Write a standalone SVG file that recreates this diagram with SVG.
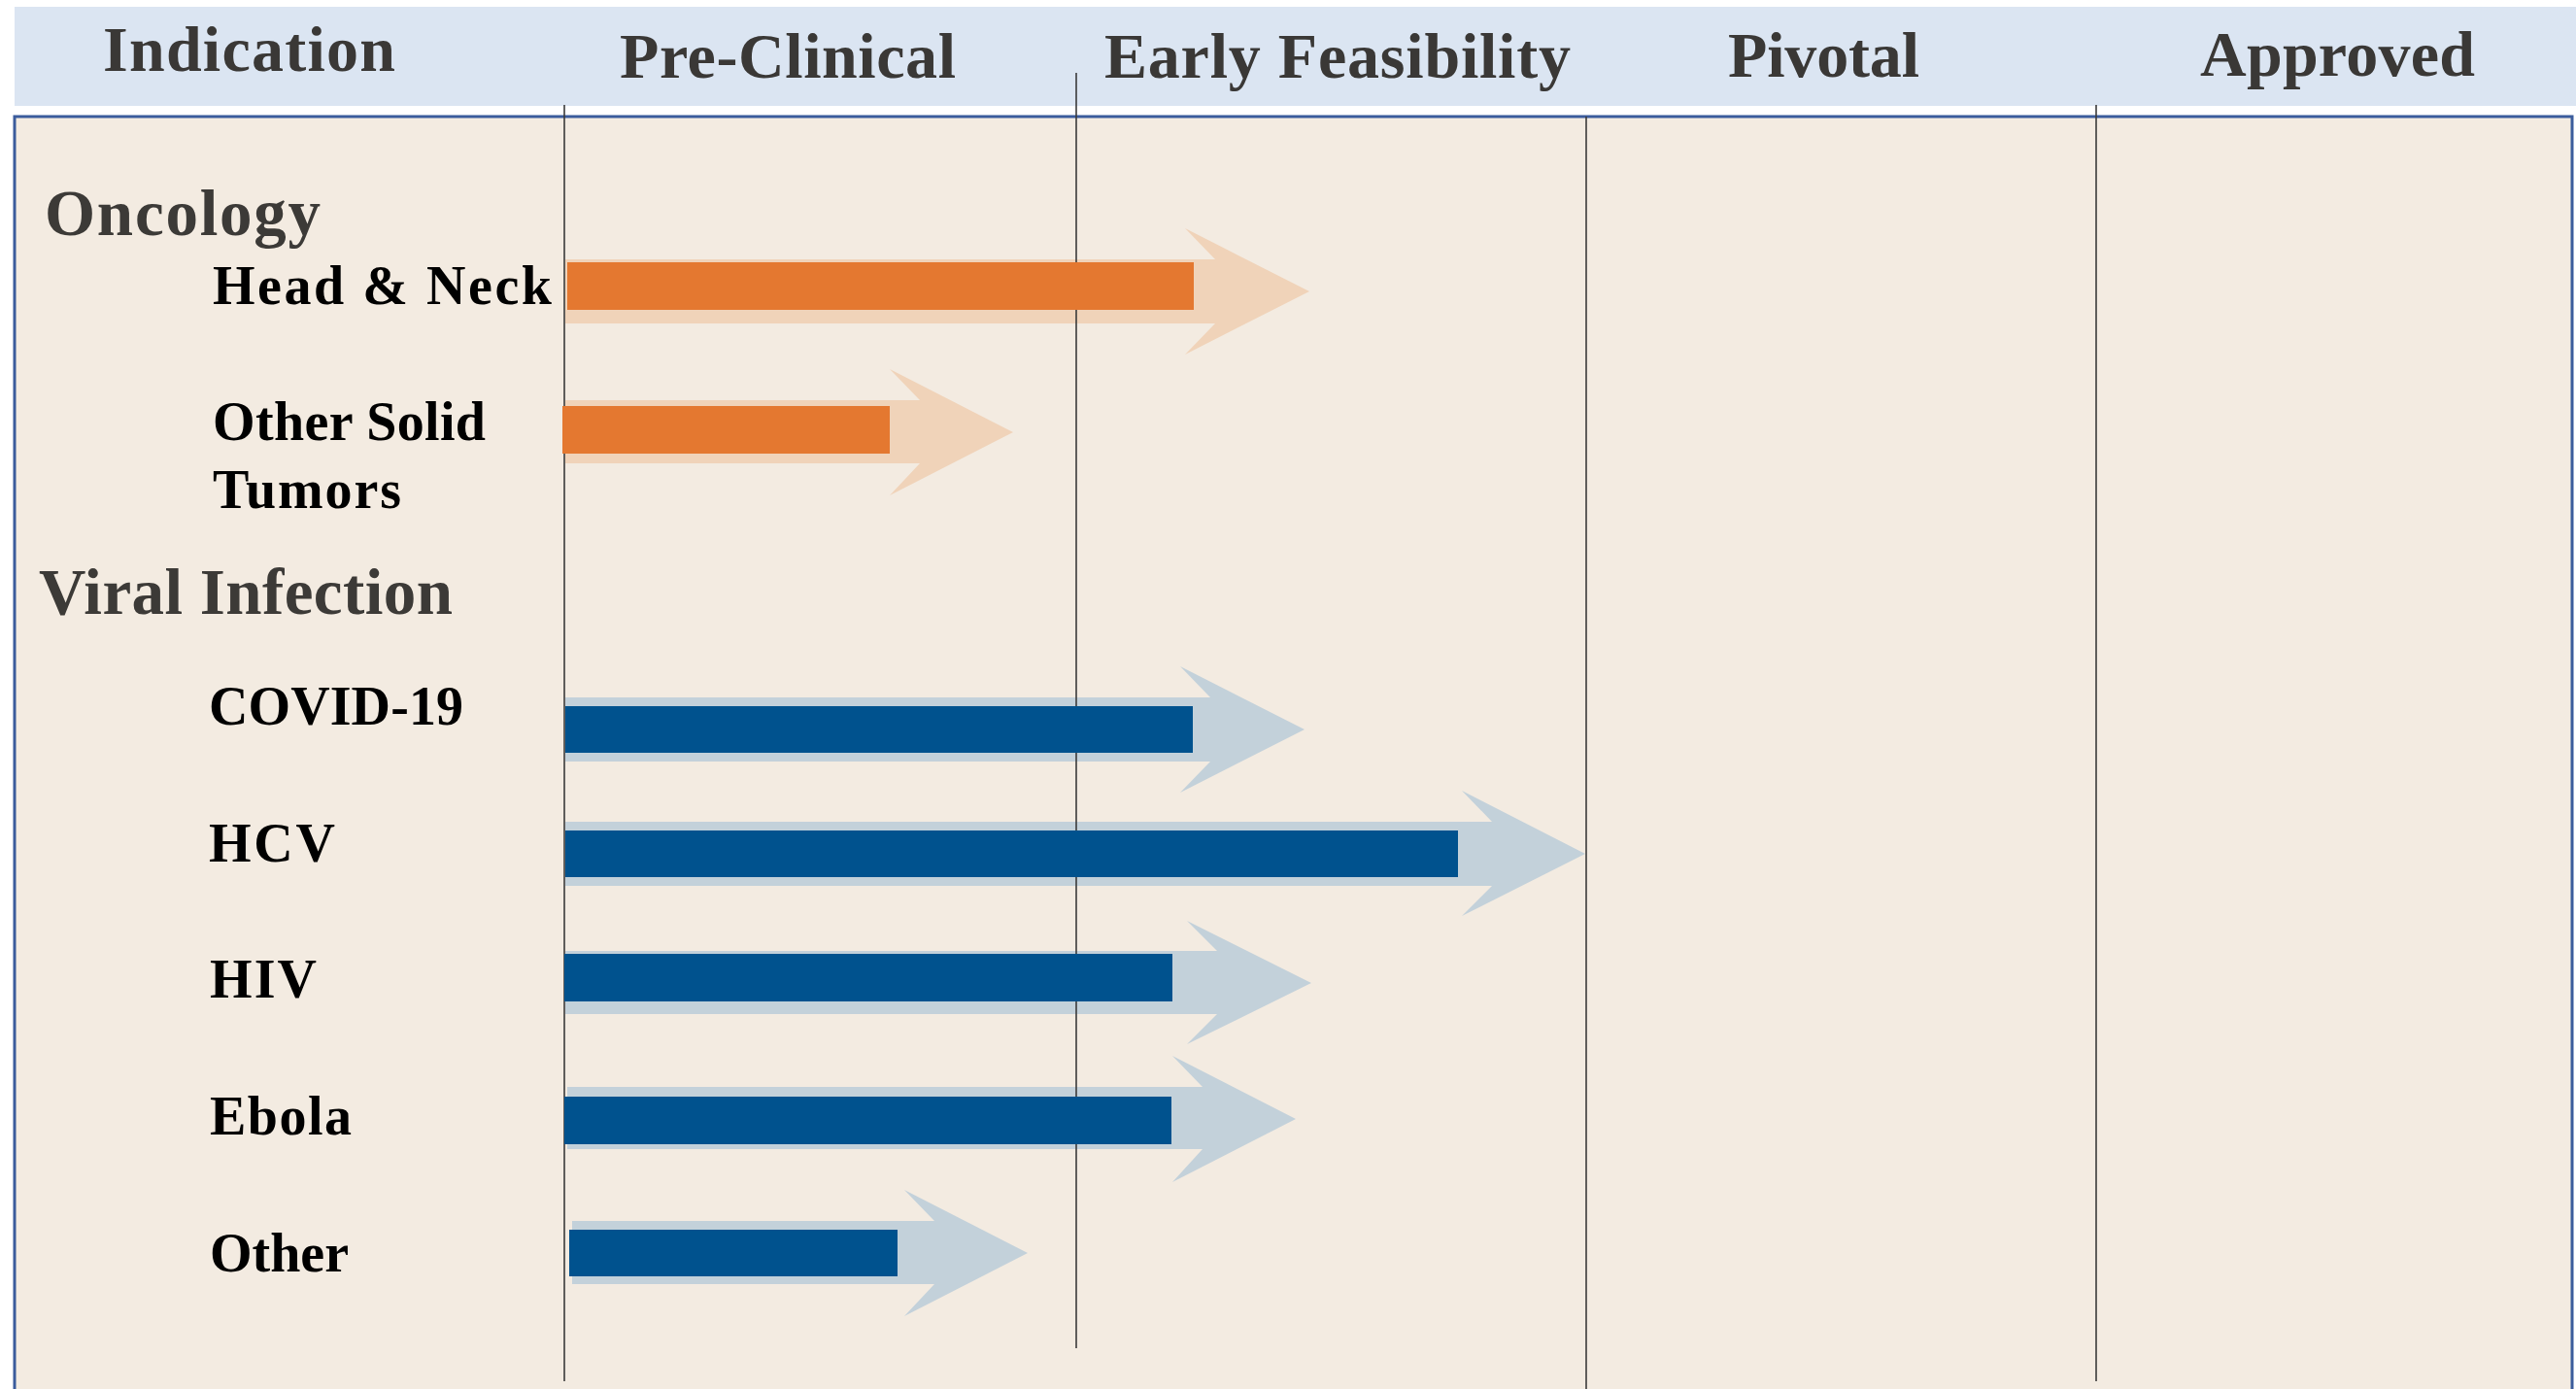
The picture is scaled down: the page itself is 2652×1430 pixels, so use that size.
<svg xmlns="http://www.w3.org/2000/svg" width="2652" height="1430" viewBox="0 0 2652 1430">
<style>
.hdr{font-family:"Liberation Serif",serif;font-weight:bold;font-size:66px;fill:#3a3836}
.cat{font-family:"Liberation Serif",serif;font-weight:bold;font-size:67px;fill:#3c3a37}
.lbl{font-family:"Liberation Serif",serif;font-weight:bold;font-size:56px;fill:#000}
.grid{stroke:#3a3a3a;stroke-width:1.6}
.ghostO{fill:#f0d3b9}
.ghostB{fill:#c3d1da}
.barO{fill:#e47830}
.barB{fill:#00528e}
</style>
<rect x="0" y="0" width="2652" height="1430" fill="#ffffff"/>
<g id="header">
<rect x="15" y="7" width="2637" height="102" fill="#dbe5f2"/>
<text class="hdr" x="106" y="73" textLength="301">Indication</text>
<text class="hdr" x="638" y="80" textLength="346">Pre-Clinical</text>
<text class="hdr" x="1137" y="80" textLength="480">Early Feasibility</text>
<text class="hdr" x="1779" y="79" textLength="197">Pivotal</text>
<text class="hdr" x="2265" y="78" textLength="283">Approved</text>
</g>
<g id="panel">
<rect x="15" y="120" width="2633" height="1330" fill="#f3ebe1" stroke="#3b5c9c" stroke-width="3"/>
</g>
<g id="ghost-arrows">
<polygon class="ghostO" points="582,267 1251,267 1220,235 1348,300 1220,365 1251,333 582,333"/>
<polygon class="ghostO" points="582,412 947,412 916,380 1043,445 916,510 947,477 582,477"/>
<polygon class="ghostB" points="582,718 1246,718 1215,686 1343,751 1215,816 1246,784 582,784"/>
<polygon class="ghostB" points="582,846 1536,846 1505,814 1632,879 1505,943 1536,912 582,912"/>
<polygon class="ghostB" points="582,979 1253,979 1222,948 1350,1012 1222,1075 1253,1044 582,1044"/>
<polygon class="ghostB" points="584,1119 1238,1119 1207,1087 1334,1152 1207,1217 1238,1183 584,1183"/>
<polygon class="ghostB" points="589,1257 962,1257 931,1225 1058,1290 931,1355 962,1322 589,1322"/>
</g>
<g id="connectors">
<line class="grid" x1="581" y1="108" x2="581" y2="1422"/>
<line class="grid" x1="1108" y1="75" x2="1108" y2="1388"/>
<line class="grid" x1="1633" y1="120" x2="1633" y2="1430"/>
<line class="grid" x1="2158" y1="108" x2="2158" y2="1422"/>
</g>
<g id="oncology">
<text class="cat" x="46" y="242" textLength="284">Oncology</text>
</g>
<g id="head-neck">
<rect class="barO" x="584" y="270" width="645" height="49"/>
<text class="lbl" x="219" y="313" textLength="349">Head &amp; Neck</text>
</g>
<g id="other-solid-tumors">
<rect class="barO" x="579" y="418" width="337" height="49"/>
<text class="lbl" x="219" y="453" textLength="281">Other Solid</text>
<text class="lbl" x="219" y="523" textLength="194">Tumors</text>
</g>
<g id="viral-infection">
<text class="cat" x="40" y="632" textLength="426">Viral Infection</text>
</g>
<g id="covid-19">
<rect class="barB" x="582" y="727" width="646" height="48"/>
<text class="lbl" x="215" y="746" textLength="262">COVID-19</text>
</g>
<g id="hcv">
<rect class="barB" x="582" y="855" width="919" height="48"/>
<text class="lbl" x="215" y="887" textLength="130">HCV</text>
</g>
<g id="hiv">
<rect class="barB" x="581" y="982" width="626" height="49"/>
<text class="lbl" x="216" y="1027" textLength="110">HIV</text>
</g>
<g id="ebola">
<rect class="barB" x="581" y="1129" width="625" height="49"/>
<text class="lbl" x="216" y="1168" textLength="146">Ebola</text>
</g>
<g id="other">
<rect class="barB" x="586" y="1266" width="338" height="48"/>
<text class="lbl" x="216" y="1309" textLength="143">Other</text>
</g>
</svg>
